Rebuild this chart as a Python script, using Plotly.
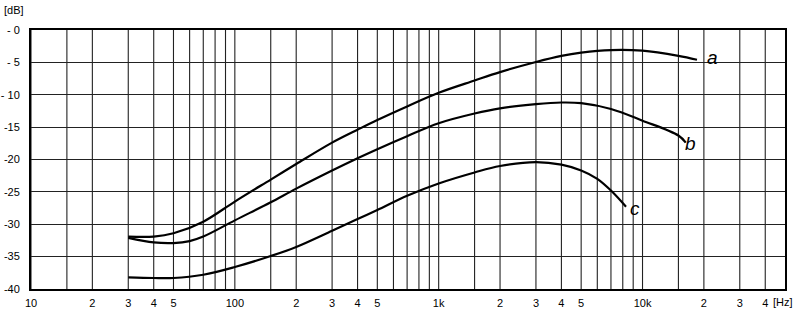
import plotly.graph_objects as go
import math

# ---- data ----
freq_a = [30, 40, 50, 70, 100, 150, 200, 300, 400, 500, 700, 1000, 1500, 2000, 3000, 4000, 5000, 7000, 10000, 15000, 18500]
db_a = [-31.9, -31.9, -31.4, -29.6, -26.5, -23.1, -20.7, -17.4, -15.4, -13.9, -11.8, -9.7, -7.8, -6.5, -4.95, -4.0, -3.5, -3.1, -3.2, -4.0, -4.6]

freq_b = [30, 40, 50, 60, 70, 100, 150, 200, 300, 400, 500, 700, 1000, 1500, 2000, 3000, 4000, 5000, 7000, 10000, 15000, 16300]
db_b = [-32.1, -32.8, -32.9, -32.6, -31.9, -29.4, -26.6, -24.5, -21.7, -19.8, -18.4, -16.4, -14.4, -12.9, -12.1, -11.45, -11.2, -11.3, -12.2, -14.0, -16.3, -17.4]

freq_c = [30, 40, 50, 70, 100, 150, 200, 300, 400, 500, 700, 1000, 1500, 2000, 3000, 4000, 5000, 6000, 7000, 8300]
db_c = [-38.2, -38.3, -38.3, -37.8, -36.6, -34.9, -33.5, -31.0, -29.2, -27.8, -25.6, -23.7, -22.0, -21.0, -20.4, -20.8, -21.7, -23.0, -24.8, -27.3]

curve_labels = ["a", "b", "c"]
label_freq = [22000, 17100, 9200]
label_db = [-4.3, -17.5, -27.6]

x_grid = [10, 15, 20, 30, 40, 50, 60, 70, 80, 90,
          100, 150, 200, 300, 400, 500, 600, 700, 800, 900,
          1000, 1500, 2000, 3000, 4000, 5000, 6000, 7000, 8000, 9000,
          10000, 15000, 20000, 30000, 40000]
x_tick_vals = [10, 20, 30, 40, 50, 100, 200, 300, 400, 500, 1000, 2000, 3000, 4000, 5000, 10000, 20000, 30000, 40000]
x_tick_text = ["10", "2", "3", "4", "5", "100", "2", "3", "4", "5", "1k", "2", "3", "4", "5", "10k", "2", "3", "4"]
y_tick_vals = [0, -5, -10, -15, -20, -25, -30, -35, -40]
y_tick_text = ["- 0", "- 5", "- 10", "-15", "-20", "-25", "-30", "-35", "-40"]

FONT = "Liberation Sans"

fig = go.Figure()
for f, d in [(freq_a, db_a), (freq_b, db_b), (freq_c, db_c)]:
    fig.add_trace(go.Scatter(x=f, y=d, mode="lines",
                             line=dict(color="black", width=2.2, shape="spline", smoothing=1.0),
                             showlegend=False, hoverinfo="skip"))

for t, fx, fy in zip(curve_labels, label_freq, label_db):
    fig.add_annotation(x=math.log10(fx), y=fy, text="<i>%s</i>" % t, showarrow=False,
                       font=dict(family=FONT, size=19, color="black"), xref="x", yref="y")

# vertical grid lines placed through the axis scale
for g in x_grid:
    fig.add_shape(type="line", xref="x", yref="y", x0=g, x1=g, y0=-40, y1=0,
                  line=dict(color="#222", width=1.1), layer="below")

fig.add_annotation(x=1.0, xref="paper", xanchor="left", xshift=-14, y=-40, yref="y", yshift=-13,
                   text="[Hz]", showarrow=False, font=dict(family=FONT, size=11, color="black"))
fig.add_annotation(x=0, xref="paper", xanchor="left", xshift=-29, y=0, yref="y", yshift=20,
                   text="[dB]", showarrow=False, font=dict(family=FONT, size=11, color="black"))

fig.update_xaxes(type="log", range=[1, math.log10(50000)], tickvals=x_tick_vals, ticktext=x_tick_text,
                 showgrid=False, zeroline=False, showline=True, linecolor="black", linewidth=2, mirror=True,
                 ticks="", tickfont=dict(family=FONT, size=11, color="black"), ticklabelstandoff=3,
                 automargin=False)
fig.update_yaxes(range=[-40, 0], tickvals=y_tick_vals, ticktext=y_tick_text,
                 showgrid=True, gridcolor="#222", gridwidth=1.1, zeroline=False,
                 showline=True, linecolor="black", linewidth=2, mirror=True,
                 ticks="", tickfont=dict(family=FONT, size=11, color="black"), ticklabelstandoff=7,
                 automargin=False)
fig.update_layout(width=800, height=313, margin=dict(l=31, r=15, t=30, b=24, autoexpand=False),
                  paper_bgcolor="white", plot_bgcolor="white")
fig.write_html("out.html")
